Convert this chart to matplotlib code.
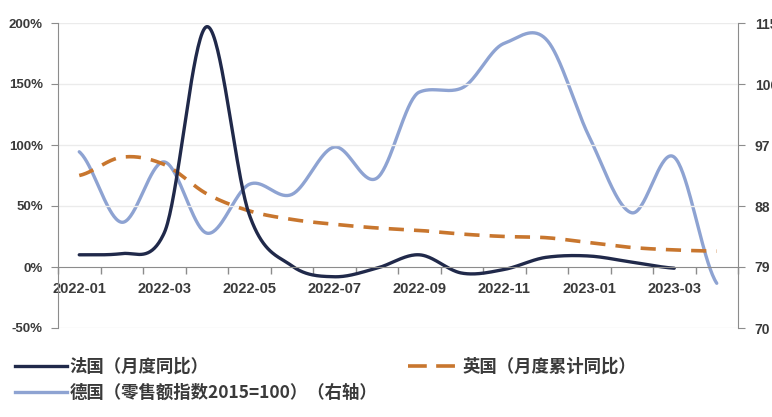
import numpy as np
import matplotlib.pyplot as plt
from matplotlib.lines import Line2D
from matplotlib.ticker import FixedLocator

plt.rcParams['font.family'] = ['Noto Sans CJK SC', 'DejaVu Sans']

# 月份（类别轴）
months = ['2022-01', '2022-02', '2022-03', '2022-04', '2022-05', '2022-06',
          '2022-07', '2022-08', '2022-09', '2022-10', '2022-11', '2022-12',
          '2023-01', '2023-02', '2023-03', '2023-04']

# 法国：月度同比（%），到 2023-03
france = [10, 11, 28, 197, 43, 1, -8, -1, 10, -5, -2, 8, 9, 4, -1]
# 英国：月度累计同比（%）
uk = [75, 90, 84, 60, 46, 39, 35, 32, 30, 27, 25, 24, 20, 16, 14, 13]
# 德国：零售额指数 2015=100（右轴）
germany = [96, 85.6, 94.5, 84, 91.2, 89.7, 96.7, 92.1, 104.8, 105.4,
           112, 112.5, 98.2, 87, 95.2, 76.6]

left_ticks = [-50, 0, 50, 100, 150, 200]
right_ticks = [70, 79, 88, 97, 106, 115]

c_fr = '#20294a'
c_uk = '#c8762e'
c_de = '#8ea3d2'
c_axis = '#8c8c8c'
c_text = '#3a3a3a'


def smooth(ys, n=40):
    """三次 Hermite 平滑线，切线取 Catmull-Rom，单调段内限制切线避免过冲"""
    y = np.asarray(ys, float)
    d = np.diff(y)
    m = np.empty_like(y)
    m[0], m[-1] = d[0] / 2, d[-1] / 2
    for k in range(1, len(y) - 1):
        m[k] = (y[k + 1] - y[k - 1]) / 2
        if d[k - 1] * d[k] > 0:
            lim = 4.5 * min(abs(d[k - 1]), abs(d[k]))
            m[k] = np.sign(m[k]) * min(abs(m[k]), lim)
    t = np.linspace(0, 1, n)
    h00 = 2 * t ** 3 - 3 * t ** 2 + 1
    h10 = t ** 3 - 2 * t ** 2 + t
    h01 = -2 * t ** 3 + 3 * t ** 2
    h11 = t ** 3 - t ** 2
    xs, yv = [], []
    for k in range(len(y) - 1):
        xs.append(k + t)
        yv.append(h00 * y[k] + h10 * m[k] + h01 * y[k + 1] + h11 * m[k + 1])
    return np.concatenate(xs), np.concatenate(yv)


fig = plt.figure(figsize=(7.72, 4.17), dpi=100)
ax = fig.add_axes([58 / 772, 89 / 417, 680 / 772, 305 / 417])
ax2 = ax.twinx()

ax.set_xlim(-0.5, len(months) - 0.5)
ax.set_ylim(-50, 200)
ax2.set_ylim(70, 115)

# 浅色网格
for v in left_ticks:
    if v != 0:
        ax.axhline(v, color='#ebebeb', lw=1, zorder=0)

ax.set_zorder(ax2.get_zorder() + 1)
ax.patch.set_visible(False)

xd, yd = smooth(germany)
ax2.plot(xd, yd, color=c_de, lw=2.4, solid_capstyle='round')

xu, yu = smooth(uk)
ax.plot(xu, yu, color=c_uk, lw=2.6, dashes=(4.2, 2.8), dash_capstyle='butt')

xf, yf = smooth(france)
ax.plot(xf, yf, color=c_fr, lw=2.4, solid_capstyle='round')

# 坐标轴样式
for a in (ax, ax2):
    a.spines['top'].set_visible(False)
ax.spines['right'].set_visible(False)
ax2.spines['left'].set_visible(False)
ax2.spines['bottom'].set_visible(False)
ax.spines['left'].set_color(c_axis)
ax2.spines['right'].set_color(c_axis)
ax.spines['bottom'].set_position(('data', 0))
ax.spines['bottom'].set_color(c_axis)

ax.set_yticks(left_ticks)
ax.set_yticklabels([f'{v}%' for v in left_ticks])
ax2.set_yticks(right_ticks)
ax2.set_yticklabels([str(v) for v in right_ticks])

ax.set_xticks(range(0, len(months), 2))
ax.set_xticklabels(months[::2])
ax.xaxis.set_minor_locator(FixedLocator(np.arange(-0.5, len(months), 1.0)))

ax.tick_params(axis='x', which='major', length=0, pad=11, labelsize=10.5,
               labelcolor=c_text)
ax.tick_params(axis='x', which='minor', length=5, color=c_axis, width=1)
ax.tick_params(axis='y', length=5, color=c_axis, pad=6, labelsize=9.5,
               labelcolor=c_text)
ax2.tick_params(axis='y', length=5, color=c_axis, pad=7, labelsize=10,
                labelcolor=c_text)
for lab in ax.get_xticklabels() + ax.get_yticklabels() + ax2.get_yticklabels():
    lab.set_family(['Liberation Sans', 'DejaVu Sans'])
    lab.set_fontweight('bold')

# 图例
handles = [
    Line2D([], [], color=c_fr, lw=2.4),
    Line2D([], [], color=c_de, lw=2.4),
    Line2D([], [], color=c_uk, lw=2.6, dashes=(5.2, 2.6)),
]
labels = ['法国（月度同比）', '德国（零售额指数2015=100）（右轴）', '英国（月度累计同比）']
fig.legend(handles, labels, loc='upper left', bbox_to_anchor=(15 / 772, 1 - 358 / 417),
           ncol=2, frameon=False, borderpad=0, borderaxespad=0,
           handlelength=3.0, handletextpad=0.15, columnspacing=1.75,
           labelspacing=0.45, prop={'size': 12.5, 'weight': 'bold'},
           labelcolor=c_text)

fig.savefig('out.png', dpi=100)
